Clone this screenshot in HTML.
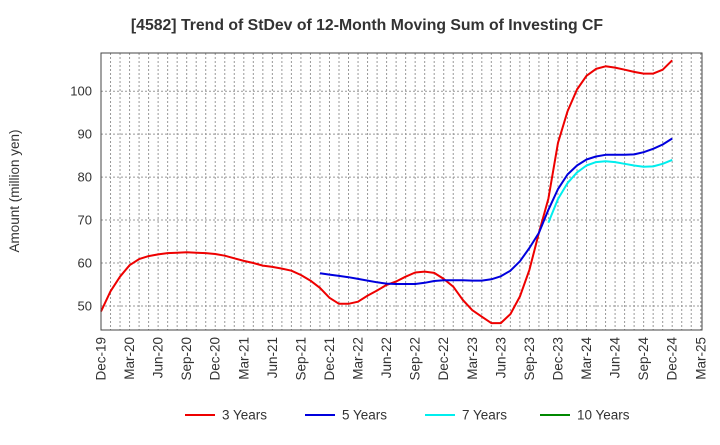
<!DOCTYPE html>
<html><head><meta charset="utf-8"><style>
body{margin:0;background:#fff;font-family:"Liberation Sans",sans-serif;}
svg text{font-family:"Liberation Sans",sans-serif;fill:#333;}
</style></head><body>
<svg id="c" width="720" height="440" xmlns="http://www.w3.org/2000/svg">
<text x="367" y="30" text-anchor="middle" font-size="15.8" font-weight="bold">[4582]  Trend of StDev of 12-Month Moving Sum of Investing CF</text>
<text transform="translate(19,191) rotate(-90)" text-anchor="middle" font-size="13.5">Amount (million yen)</text>
<g id="grid"></g><g id="ticks"></g><g id="series"></g>
<rect x="101" y="53" width="601" height="277" fill="none" stroke="#444" stroke-width="1"/>
<g id="legend"></g>
</svg>
<script>
const yTicks=[50,60,70,80,90,100];
const xLabels=["Dec-19","Mar-20","Jun-20","Sep-20","Dec-20","Mar-21","Jun-21","Sep-21","Dec-21","Mar-22","Jun-22","Sep-22","Dec-22","Mar-23","Jun-23","Sep-23","Dec-23","Mar-24","Jun-24","Sep-24","Dec-24","Mar-25"];
const s3start=0;
const s3=[48.7,53.4,56.8,59.5,60.9,61.6,62,62.3,62.4,62.5,62.4,62.3,62.1,61.7,61.1,60.5,60,59.4,59.1,58.7,58.2,57.2,55.9,54.2,51.9,50.5,50.5,51,52.4,53.6,54.9,55.7,56.8,57.8,58,57.7,56.3,54.5,51.4,49,47.5,46,46,48.1,52.2,58.4,67,75,88,95.3,100.4,103.6,105.2,105.8,105.5,105,104.5,104.1,104.1,105,107.2];
const s5start=23;
const s5=[57.6,57.3,57,56.7,56.3,55.9,55.5,55.2,55.1,55.1,55.1,55.4,55.8,56,56,56,55.9,55.9,56.2,56.9,58.2,60.4,63.5,67,72.4,77.2,80.6,82.7,84.1,84.8,85.2,85.2,85.2,85.3,85.8,86.6,87.6,89];
const s7start=47;
const s7=[69.4,74.9,78.6,81.1,82.7,83.5,83.7,83.5,83.1,82.7,82.4,82.5,83.1,84];
const s10start=0;
const s10=[];
const NS="http://www.w3.org/2000/svg";
const L=101,R=702,T=53,B=330,mStep=9.52;
const yMin=44.4,yMax=108.9;
const X=m=>L+m*mStep;
const Y=v=>B-(v-yMin)/(yMax-yMin)*(B-T);
function mk(t,a,p){const e=document.createElementNS(NS,t);for(const k in a)e.setAttribute(k,a[k]);p.appendChild(e);return e;}
const grid=document.getElementById('grid'),ticks=document.getElementById('ticks'),ser=document.getElementById('series'),leg=document.getElementById('legend');
for(let m=1;m<=63;m++){const l=mk('line',{x1:X(m),x2:X(m),y1:T,y2:B,stroke:'#999','stroke-width':1,'stroke-dasharray':'2,2'},grid);

}
yTicks.forEach(v=>{const l=mk('line',{x1:L,x2:R,y1:Y(v),y2:Y(v),stroke:'#999','stroke-width':1,'stroke-dasharray':'2,2'},grid);


const t=mk('text',{x:92,y:Y(v)+4.5,'text-anchor':'end','font-size':13},ticks);t.textContent=v;

});
xLabels.forEach((s,i)=>{const x=X(i*3);const t=mk('text',{transform:`translate(${x+4.5},337) rotate(-90)`,'text-anchor':'end','font-size':13.5},ticks);t.textContent=s;

});
function line(arr,start,color,name){if(!arr.length)return;const p=arr.map((v,i)=>X(start+i).toFixed(1)+','+Y(v).toFixed(1)).join(' ');
const e=mk('polyline',{points:p,fill:'none',stroke:color,'stroke-width':2,'stroke-linejoin':'round'},ser);

}
line(s3,s3start,'#ee0000','series-3-years');
line(s5,s5start,'#0000dd','series-5-years');
line(s7,s7start,'#00eeee','series-7-years');
line(s10,s10start,'#008800','series-10-years');
const items=[["3 Years","#ee0000",185],["5 Years","#0000dd",305],["7 Years","#00eeee",425],["10 Years","#008800",540]];
items.forEach(it=>{const g=mk('g',{},leg);


mk('line',{x1:it[2],x2:it[2]+30,y1:415,y2:415,stroke:it[1],'stroke-width':2},g);
const t=mk('text',{x:it[2]+37,y:419.5,'font-size':13.5},g);t.textContent=it[0];});
</script>
</body></html>
